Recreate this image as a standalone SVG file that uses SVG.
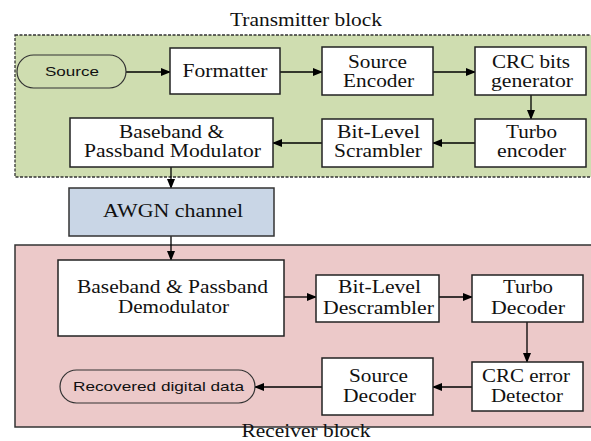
<svg xmlns="http://www.w3.org/2000/svg" width="591" height="441" viewBox="0 0 591 441">
<defs>
<marker id="ah" markerWidth="10" markerHeight="8" refX="9" refY="4" orient="auto" markerUnits="userSpaceOnUse">
<path d="M0,0 L10,4 L0,8 Z" fill="#000"/>
</marker>
<style>
.box{fill:#fff;stroke:#222;stroke-width:1.5}
.t{font-family:"Liberation Serif","Times New Roman",serif;font-size:18px;fill:#111;text-anchor:middle}
.s{font-family:"Liberation Sans",Arial,sans-serif;font-size:13px;fill:#111;text-anchor:middle}
.c{stroke:#000;stroke-width:1.3;fill:none;marker-end:url(#ah)}
</style>
</defs>
<rect width="591" height="441" fill="#fff"/>
<g id="transmitter-block">
<rect x="15" y="35" width="590" height="142" fill="#cfddb0" stroke="#333" stroke-width="1.3" stroke-dasharray="3,1.5"/>
<text class="t" x="306" y="26" textLength="152" lengthAdjust="spacingAndGlyphs">Transmitter block</text>
</g>
<g id="receiver-block">
<rect x="15" y="245" width="590" height="182" fill="#ecc9c9" stroke="#333" stroke-width="1.5"/>
<text class="t" x="306" y="437" font-size="16" textLength="129" lengthAdjust="spacingAndGlyphs">Receiver block</text>
</g>
<g id="connectors">
<line class="c" x1="126" y1="72" x2="170" y2="72"/>
<line class="c" x1="280" y1="72" x2="322" y2="72"/>
<line class="c" x1="433" y1="72" x2="475" y2="72"/>
<line class="c" x1="531" y1="95" x2="531" y2="119"/>
<line class="c" x1="475" y1="143" x2="433" y2="143"/>
<line class="c" x1="322" y1="143" x2="273" y2="143"/>
<line class="c" x1="171" y1="167" x2="171" y2="188"/>
<line class="c" x1="171" y1="236" x2="171" y2="260"/>
<line class="c" x1="284" y1="297" x2="316" y2="297"/>
<line class="c" x1="439" y1="297" x2="472" y2="297"/>
<line class="c" x1="527" y1="322" x2="527" y2="362"/>
<line class="c" x1="472" y1="387" x2="433" y2="387"/>
<line class="c" x1="322" y1="387" x2="255" y2="387"/>
</g>
<g id="source">
<rect x="17" y="55" width="109" height="33" rx="16.5" fill="#cfddb0" stroke="#333" stroke-width="1.2"/>
<text class="s" x="72" y="76" textLength="54" lengthAdjust="spacingAndGlyphs">Source</text>
</g>
<g id="formatter">
<rect class="box" x="170" y="48" width="110" height="46"/>
<text class="t" x="225" y="77" textLength="85" lengthAdjust="spacingAndGlyphs">Formatter</text>
</g>
<g id="source-encoder">
<rect class="box" x="322" y="47" width="111" height="48"/>
<text class="t" x="377.5" y="68" textLength="59" lengthAdjust="spacingAndGlyphs">Source</text>
<text class="t" x="378.5" y="87" textLength="71" lengthAdjust="spacingAndGlyphs">Encoder</text>
</g>
<g id="crc-generator">
<rect class="box" x="475" y="47" width="111" height="48"/>
<text class="t" x="531" y="68" textLength="78" lengthAdjust="spacingAndGlyphs">CRC bits</text>
<text class="t" x="532" y="87" textLength="82" lengthAdjust="spacingAndGlyphs">generator</text>
</g>
<g id="turbo-encoder">
<rect class="box" x="475" y="119" width="111" height="48"/>
<text class="t" x="531.5" y="138" textLength="51" lengthAdjust="spacingAndGlyphs">Turbo</text>
<text class="t" x="531.5" y="157" textLength="69" lengthAdjust="spacingAndGlyphs">encoder</text>
</g>
<g id="scrambler">
<rect class="box" x="322" y="119" width="111" height="48"/>
<text class="t" x="378.5" y="138" textLength="83" lengthAdjust="spacingAndGlyphs">Bit-Level</text>
<text class="t" x="378" y="157" textLength="88" lengthAdjust="spacingAndGlyphs">Scrambler</text>
</g>
<g id="modulator">
<rect class="box" x="70" y="118" width="203" height="49"/>
<text class="t" x="171.5" y="138" textLength="105" lengthAdjust="spacingAndGlyphs">Baseband &amp;</text>
<text class="t" x="172.5" y="157" textLength="177" lengthAdjust="spacingAndGlyphs">Passband Modulator</text>
</g>
<g id="awgn">
<rect x="69" y="188" width="205" height="48" fill="#c9d6e6" stroke="#333" stroke-width="1.5"/>
<text class="t" x="173" y="217" textLength="140" lengthAdjust="spacingAndGlyphs">AWGN channel</text>
</g>
<g id="demodulator">
<rect class="box" x="58" y="260" width="226" height="76"/>
<text class="t" x="172.5" y="293" textLength="191" lengthAdjust="spacingAndGlyphs">Baseband &amp; Passband</text>
<text class="t" x="173.5" y="313" textLength="111" lengthAdjust="spacingAndGlyphs">Demodulator</text>
</g>
<g id="descrambler">
<rect class="box" x="316" y="275" width="123" height="47"/>
<text class="t" x="379.5" y="293" textLength="83" lengthAdjust="spacingAndGlyphs">Bit-Level</text>
<text class="t" x="378.5" y="314" textLength="111" lengthAdjust="spacingAndGlyphs">Descrambler</text>
</g>
<g id="turbo-decoder">
<rect class="box" x="472" y="275" width="111" height="47"/>
<text class="t" x="528" y="293" textLength="50" lengthAdjust="spacingAndGlyphs">Turbo</text>
<text class="t" x="528" y="314" textLength="74" lengthAdjust="spacingAndGlyphs">Decoder</text>
</g>
<g id="crc-detector">
<rect class="box" x="472" y="362" width="111" height="49"/>
<text class="t" x="526" y="382" textLength="88" lengthAdjust="spacingAndGlyphs">CRC error</text>
<text class="t" x="527" y="402" textLength="72" lengthAdjust="spacingAndGlyphs">Detector</text>
</g>
<g id="source-decoder">
<rect class="box" x="322" y="358" width="111" height="57"/>
<text class="t" x="378.5" y="382" textLength="59" lengthAdjust="spacingAndGlyphs">Source</text>
<text class="t" x="379.5" y="402" textLength="73" lengthAdjust="spacingAndGlyphs">Decoder</text>
</g>
<g id="recovered">
<rect x="60" y="370" width="195" height="33" rx="16.5" fill="#ecc9c9" stroke="#333" stroke-width="1.2"/>
<text class="s" x="158.5" y="391" textLength="171" lengthAdjust="spacingAndGlyphs">Recovered digital data</text>
</g>
</svg>
